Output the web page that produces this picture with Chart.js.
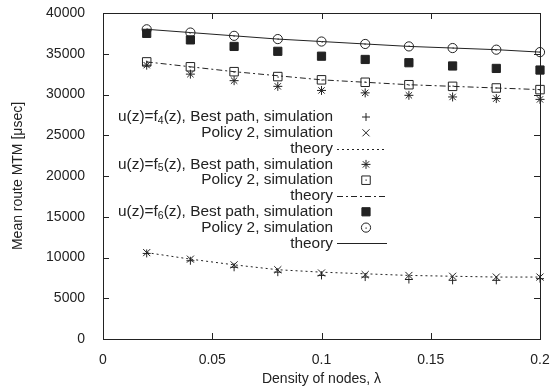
<!DOCTYPE html>
<html>
<head>
<meta charset="utf-8">
<script src="https://cdn.jsdelivr.net/npm/chart.js@4.4.1/dist/chart.umd.min.js"></script>
<style>
  html, body { margin: 0; padding: 0; background: #fff; }
  #wrap { width: 559px; height: 388px; }
</style>
</head>
<body>
<div id="wrap"><canvas id="chart" width="559" height="388"></canvas></div>
<script>
// Density of nodes (x axis)
const densities = [0.02, 0.04, 0.06, 0.08, 0.10, 0.12, 0.14, 0.16, 0.18, 0.20];

// u(z)=f4(z)
const f4Best    = [10500, 9600, 8800, 8200, 7800, 7600, 7300, 7200, 7200, 7400];
const f4Policy2 = [10600, 9800, 9100, 8500, 8100, 7900, 7800, 7700, 7600, 7600];
const f4Theory  = [10600, 9800, 9100, 8500, 8200, 8000, 7800, 7700, 7600, 7600];

// u(z)=f5(z)
const f5Best    = [33600, 32500, 31700, 31000, 30500, 30200, 29900, 29700, 29500, 29400];
const f5Policy2 = [34000, 33400, 32800, 32200, 31800, 31500, 31200, 31000, 30800, 30600];
const f5Theory  = [34000, 33400, 32800, 32300, 31800, 31500, 31200, 31000, 30800, 30600];

// u(z)=f6(z)
const f6Best    = [37500, 36700, 35900, 35300, 34700, 34300, 33900, 33500, 33200, 33000];
const f6Policy2 = [38000, 37600, 37200, 36800, 36500, 36200, 35900, 35700, 35500, 35200];
const f6Theory  = [38000, 37600, 37200, 36800, 36500, 36200, 35900, 35700, 35500, 35200];

// Axis ticks
const xTicks = [0, 0.05, 0.1, 0.15, 0.2];
const yTicks = [0, 5000, 10000, 15000, 20000, 25000, 30000, 35000, 40000];

const INK = '#222';
const FONT = "'Liberation Sans', Arial, sans-serif";

function pts(vals) {
    return densities.map((x, i) => ({ x: x, y: vals[i] }));
}

function simSet(label, vals, style, radius, filled, centerDot) {
    return {
        label: label,
        data: pts(vals),
        showLine: false,
        pointStyle: style,
        pointRadius: radius,
        pointHoverRadius: radius,
        pointBorderColor: INK,
        pointBackgroundColor: filled ? INK : 'rgba(0,0,0,0)',
        pointBorderWidth: 1,
        centerDot: !!centerDot,
        clip: false
    };
}
function theorySet(vals, dash) {
    return {
        label: 'theory',
        data: pts(vals),
        showLine: true,
        borderColor: INK,
        borderWidth: 1,
        borderDash: dash,
        pointRadius: 0,
        tension: 0,
        clip: false
    };
}

const datasets = [
    simSet('u(z)=f|4|(z), Best path, simulation', f4Best, 'cross', 4, false),
    simSet('Policy 2, simulation', f4Policy2, 'crossRot', 5, false),
    theorySet(f4Theory, [2, 3]),
    simSet('u(z)=f|5|(z), Best path, simulation', f5Best, 'star', 4.5, false),
    simSet('Policy 2, simulation', f5Policy2, 'rect', 6, false, true),
    theorySet(f5Theory, [6, 3, 2, 3]),
    simSet('u(z)=f|6|(z), Best path, simulation', f6Best, 'rect', 5.8, true),
    simSet('Policy 2, simulation', f6Policy2, 'circle', 4.6, false, true),
    theorySet(f6Theory, [])
];

// little dot in the middle of the open square / circle markers
function dot(ctx, x, y) {
    ctx.fillRect(Math.round(x) - 0.5, Math.round(y) - 0.5, 1.2, 1.2);
}

// Frame with inward ticks on all four sides (gnuplot look) + centre dots
const framePlugin = {
    id: 'frame',
    afterDatasetsDraw(chart) {
        const { ctx, chartArea: a, scales } = chart;
        ctx.save();
        ctx.fillStyle = INK;
        chart.data.datasets.forEach((ds, i) => {
            if (!ds.centerDot) return;
            chart.getDatasetMeta(i).data.forEach(el => dot(ctx, el.x, el.y));
        });
        ctx.strokeStyle = INK;
        ctx.lineWidth = 1;
        ctx.beginPath();
        xTicks.forEach(v => {
            const px = Math.round(scales.x.getPixelForValue(v)) + 0.5;
            ctx.moveTo(px, a.bottom); ctx.lineTo(px, a.bottom - 6);
            ctx.moveTo(px, a.top); ctx.lineTo(px, a.top + 6);
        });
        yTicks.forEach(v => {
            const py = Math.round(scales.y.getPixelForValue(v)) + 0.5;
            ctx.moveTo(a.left, py); ctx.lineTo(a.left + 6, py);
            ctx.moveTo(a.right, py); ctx.lineTo(a.right - 6, py);
        });
        ctx.stroke();
        ctx.strokeRect(Math.round(a.left) + 0.5, Math.round(a.top) + 0.5,
            Math.round(a.right - a.left), Math.round(a.bottom - a.top));
        ctx.restore();
    }
};

// Legend: text right-aligned, sample to its right
const legendPlugin = {
    id: 'keyBox',
    afterDraw(chart) {
        const ctx = chart.ctx;
        const textRight = 333, sampleX = 366, lineL = 337, lineR = 387;
        const top = 117, step = 15.8;
        const big = 15.4, small = 10.5;
        ctx.save();
        chart.data.datasets.forEach((ds, i) => {
            const y = top + i * step;
            // split label on | to get subscript pieces
            const parts = ds.label.split('|');
            let w = 0;
            parts.forEach((p, k) => {
                ctx.font = (k === 1 ? small : big) + 'px ' + FONT;
                w += ctx.measureText(p).width;
            });
            let x = textRight - w;
            ctx.fillStyle = INK;
            ctx.textBaseline = 'middle';
            ctx.textAlign = 'left';
            parts.forEach((p, k) => {
                ctx.font = (k === 1 ? small : big) + 'px ' + FONT;
                ctx.fillText(p, x, k === 1 ? y + 4 : y);
                x += ctx.measureText(p).width;
            });
            ctx.strokeStyle = INK;
            ctx.lineWidth = 1;
            if (ds.showLine) {
                ctx.setLineDash(ds.borderDash);
                ctx.beginPath();
                ctx.moveTo(lineL, Math.round(y) + 0.5);
                ctx.lineTo(lineR, Math.round(y) + 0.5);
                ctx.stroke();
                ctx.setLineDash([]);
            } else {
                ctx.fillStyle = ds.pointBackgroundColor;
                Chart.helpers.drawPoint(ctx, {
                    pointStyle: ds.pointStyle,
                    radius: ds.pointRadius,
                    rotation: 0,
                    borderWidth: 1
                }, sampleX, y);
                if (ds.centerDot) {
                    ctx.fillStyle = INK;
                    dot(ctx, sampleX, y);
                }
            }
        });
        ctx.restore();
    }
};

const ctx = document.getElementById('chart').getContext('2d');
new Chart(ctx, {
    type: 'scatter',
    data: { datasets: datasets },
    options: {
        responsive: false,
        animation: false,
        events: [],
        layout: { padding: { top: 13, right: 19, left: 10, bottom: 0 } },
        plugins: {
            legend: { display: false },
            tooltip: { enabled: false }
        },
        scales: {
            x: {
                type: 'linear',
                min: 0,
                max: 0.2,
                grid: { display: false },
                border: { display: false },
                afterBuildTicks: s => { s.ticks = xTicks.map(v => ({ value: v })); },
                afterFit: s => { s.height = 49; s.paddingLeft = 0; s.paddingRight = 0; },
                ticks: {
                    color: INK,
                    font: { family: FONT, size: 14 },
                    padding: 5,
                    maxRotation: 0,
                    callback: v => String(v)
                },
                title: {
                    display: true,
                    text: 'Density of nodes, λ',
                    color: INK,
                    font: { family: FONT, size: 14 },
                    padding: { top: 2, bottom: 0 }
                }
            },
            y: {
                type: 'linear',
                min: 0,
                max: 40000,
                grid: { display: false },
                border: { display: false },
                afterBuildTicks: s => { s.ticks = yTicks.map(v => ({ value: v })); },
                afterFit: s => { s.width = 93; s.paddingTop = 0; s.paddingBottom = 0; },
                ticks: {
                    color: INK,
                    font: { family: FONT, size: 14 },
                    padding: 10,
                    callback: v => String(v)
                },
                title: {
                    display: true,
                    text: 'Mean route MTM [μsec]',
                    color: INK,
                    font: { family: FONT, size: 14 },
                    padding: { top: 0, bottom: 4 }
                }
            }
        }
    },
    plugins: [framePlugin, legendPlugin]
});
</script>
</body>
</html>
